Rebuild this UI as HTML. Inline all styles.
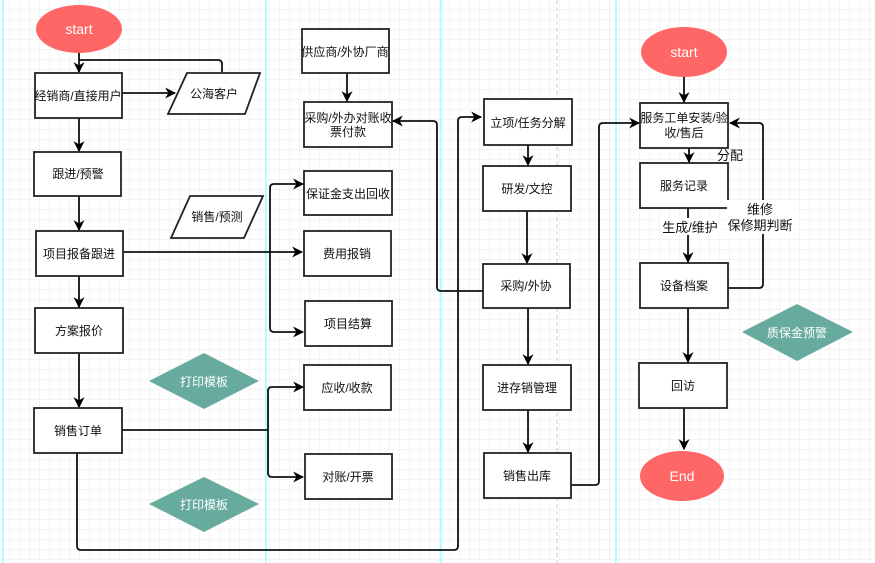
<!DOCTYPE html>
<html><head><meta charset="utf-8"><style>
html,body{margin:0;padding:0;background:#fff;}
svg{display:block;}
text{font-family:"Liberation Sans","Noto Sans CJK SC",sans-serif;}
</style></head><body>
<svg width="875" height="563" viewBox="0 0 875 563" xmlns="http://www.w3.org/2000/svg">
<defs>
<pattern id="g" x="0" y="0" width="10" height="10" patternUnits="userSpaceOnUse">
<path d="M10 0V10M0 10H10" fill="none" stroke="#e8e8e8" stroke-width="1"/>
</pattern>
<marker id="a" viewBox="0 0 10 10" refX="9" refY="5" markerWidth="11" markerHeight="11" orient="auto" markerUnits="userSpaceOnUse">
<path d="M0 0L10 5L0 10L3 5Z" fill="#000"/>
</marker>
</defs>
<rect width="875" height="563" fill="#fff"/>
<rect width="875" height="563" fill="url(#g)"/>
<g stroke="#9ff" stroke-width="1.5">
<line x1="3" y1="0" x2="3" y2="563"/><line x1="266" y1="0" x2="266" y2="563"/>
<line x1="441" y1="0" x2="441" y2="563"/><line x1="616" y1="0" x2="616" y2="563"/>
</g>
<line x1="557" y1="0" x2="557" y2="563" stroke="#ccc" stroke-dasharray="4 3"/>

<g fill="none" stroke="#111" stroke-width="1.8">
<path d="M79 53V72" marker-end="url(#a)"/>
<path d="M222 72V64Q222 60 218 60H79"/>
<path d="M122 93H175" marker-end="url(#a)"/>
<path d="M79 118V151" marker-end="url(#a)"/>
<path d="M79 196V230" marker-end="url(#a)"/>
<path d="M79 276V307" marker-end="url(#a)"/>
<path d="M79 353V407" marker-end="url(#a)"/>
<path d="M123 252H302" marker-end="url(#a)"/>
<path d="M270 252V188Q270 184 274 184H303" marker-end="url(#a)"/>
<path d="M270 252V328Q270 332 274 332H303" marker-end="url(#a)"/>
<path d="M122 430H268"/>
<path d="M268 430V391Q268 387 272 387H303" marker-end="url(#a)"/>
<path d="M268 430V473Q268 477 272 477H303" marker-end="url(#a)"/>
<path d="M77 453V546Q77 550 81 550H454Q458 550 458 546V121Q458 117 462 117H481" marker-end="url(#a)"/>
<path d="M347 73V101" marker-end="url(#a)"/>
<path d="M483 291H441Q437 291 437 287V125Q437 121 433 121H393" marker-end="url(#a)"/>
<path d="M528 145V165" marker-end="url(#a)"/>
<path d="M527 211V263" marker-end="url(#a)"/>
<path d="M528 308V364" marker-end="url(#a)"/>
<path d="M528 410V452" marker-end="url(#a)"/>
<path d="M571 485H595Q599 485 599 481V127Q599 123 603 123H639" marker-end="url(#a)"/>
<path d="M684 77V102" marker-end="url(#a)"/>
<path d="M689 148V162" marker-end="url(#a)"/>
<path d="M688 208V262" marker-end="url(#a)"/>
<path d="M728 288H759Q763 288 763 284V127Q763 123 759 123H730" marker-end="url(#a)"/>
<path d="M688 308V362" marker-end="url(#a)"/>
<path d="M684 408V449" marker-end="url(#a)"/>
</g>

<g fill="#fff" stroke="#222" stroke-width="1.8">
<rect x="35" y="73" width="87" height="45"/>
<rect x="34" y="152" width="87" height="44"/>
<rect x="36" y="231" width="87" height="45"/>
<rect x="35" y="308" width="88" height="45"/>
<rect x="34" y="408" width="88" height="45"/>
<polygon points="187,73 260,73 245,114 168,114"/>
<polygon points="190,196 263,196 244,238 171,238"/>
<rect x="302" y="29" width="87" height="44"/>
<rect x="304" y="102" width="88" height="45"/>
<rect x="304" y="171" width="88" height="44"/>
<rect x="304" y="231" width="87" height="45"/>
<rect x="305" y="301" width="87" height="45"/>
<rect x="304" y="365" width="87" height="45"/>
<rect x="305" y="454" width="87" height="45"/>
<rect x="484" y="99" width="88" height="46"/>
<rect x="483" y="166" width="88" height="45"/>
<rect x="483" y="264" width="87" height="44"/>
<rect x="483" y="365" width="88" height="45"/>
<rect x="484" y="453" width="87" height="45"/>
<rect x="640" y="103" width="88" height="45"/>
<rect x="640" y="163" width="88" height="45"/>
<rect x="640" y="263" width="88" height="45"/>
<rect x="639" y="363" width="88" height="45"/>
</g>

<ellipse cx="79" cy="29" rx="43" ry="24" fill="#f66"/>
<ellipse cx="684" cy="52" rx="43" ry="25" fill="#f66"/>
<ellipse cx="682" cy="476" rx="42" ry="25" fill="#f66"/>
<g fill="#67ab9f">
<polygon points="204,353 259,381 204,409 149,381"/>
<polygon points="204,477 259,504 204,532 149,504"/>
<polygon points="797,304 853,332 797,361 742,332"/>
</g>
<rect x="660" y="218" width="60" height="17" fill="#fff"/>
<rect x="727" y="200" width="68" height="34" fill="#fff"/>

<g font-size="12" text-anchor="middle" fill="#111">
<text x="79" y="34" fill="#fff" font-size="14">start</text>
<text x="684" y="57" fill="#fff" font-size="14">start</text>
<text x="682" y="481" fill="#fff" font-size="14">End</text>
<text x="78" y="100">经销商/直接用户</text>
<text x="78" y="178">跟进/预警</text>
<text x="79" y="258">项目报备跟进</text>
<text x="79" y="335">方案报价</text>
<text x="78" y="435">销售订单</text>
<text x="214" y="98">公海客户</text>
<text x="217" y="221">销售/预测</text>
<text x="345" y="56">供应商/外协厂商</text>
<text x="348" y="122">采购/外办对账收</text>
<text x="348" y="136">票付款</text>
<text x="348" y="198">保证金支出回收</text>
<text x="347" y="258">费用报销</text>
<text x="348" y="328">项目结算</text>
<text x="347" y="392">应收/收款</text>
<text x="348" y="481">对账/开票</text>
<text x="528" y="127">立项/任务分解</text>
<text x="527" y="193">研发/文控</text>
<text x="526" y="290">采购/外协</text>
<text x="527" y="392">进存销管理</text>
<text x="527" y="480">销售出库</text>
<text x="684" y="122">服务工单安装/验</text>
<text x="684" y="137">收/售后</text>
<text x="684" y="190">服务记录</text>
<text x="684" y="290">设备档案</text>
<text x="683" y="390">回访</text>
<text x="204" y="386" fill="#fff">打印模板</text>
<text x="204" y="509" fill="#fff">打印模板</text>
<text x="797" y="337" fill="#fff">质保金预警</text>
<text x="730" y="160" font-size="13">分配</text>
<text x="690" y="232" font-size="13">生成/维护</text>
<text x="760" y="214" font-size="13">维修</text>
<text x="760" y="230" font-size="13">保修期判断</text>
</g>
</svg>
</body></html>
